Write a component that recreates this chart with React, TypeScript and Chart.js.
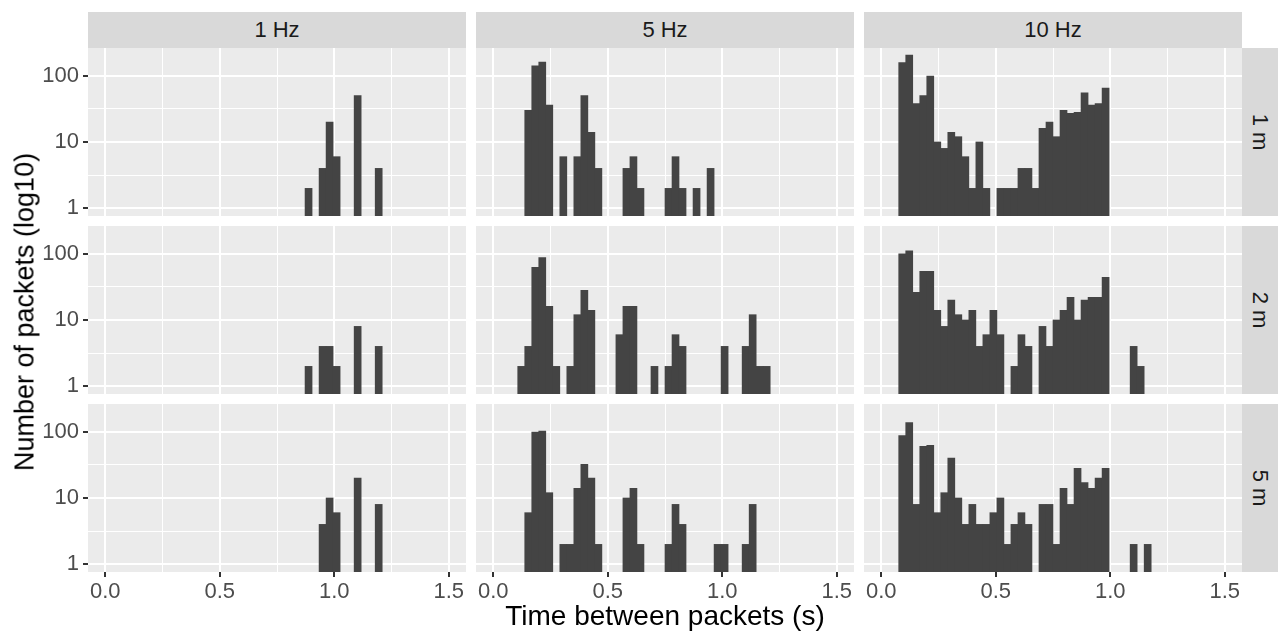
import React, { useEffect, useRef } from 'react';
import { Chart, registerables } from 'chart.js';

Chart.register(...registerables);

// ---- data -------------------------------------------------------------
const FREQUENCIES = ['1 Hz', '5 Hz', '10 Hz'];
const DISTANCES = ['1 m', '2 m', '5 m'];
const X_TITLE = 'Time between packets (s)';
const Y_TITLE = 'Number of packets (log10)';

// histogram: 50 bins over [0, 1.5]; bin i is centred at i * BIN_WIDTH seconds
const N_BINS = 50;
const BIN_WIDTH = 1.5 / 49;

const X_MAJOR = [0, 0.5, 1.0, 1.5];
const X_MINOR = [0.25, 0.75, 1.25];
const X_LABELS = ['0.0', '0.5', '1.0', '1.5'];
const Y_MAJOR = [1, 10, 100];
const Y_MINOR = [3.1623, 31.623];
const Y_LABELS = ['1', '10', '100'];
const X_MIN = -0.075;
const X_MAX = 1.575;
const Y_MIN = 0.767;
const Y_MAX = 260;

// packet counts per bin (bins 0..39); 0 = empty bin
const HZ1_M1 = [
  0, 0, 0, 0, 0, 0, 0, 0, 0, 0,
  0, 0, 0, 0, 0, 0, 0, 0, 0, 0,
  0, 0, 0, 0, 0, 0, 0, 0, 0, 2,
  0, 4, 20, 6, 0, 0, 50, 0, 0, 4,
];
const HZ1_M2 = [
  0, 0, 0, 0, 0, 0, 0, 0, 0, 0,
  0, 0, 0, 0, 0, 0, 0, 0, 0, 0,
  0, 0, 0, 0, 0, 0, 0, 0, 0, 2,
  0, 4, 4, 2, 0, 0, 8, 0, 0, 4,
];
const HZ1_M5 = [
  0, 0, 0, 0, 0, 0, 0, 0, 0, 0,
  0, 0, 0, 0, 0, 0, 0, 0, 0, 0,
  0, 0, 0, 0, 0, 0, 0, 0, 0, 0,
  0, 4, 10, 6, 0, 0, 20, 0, 0, 8,
];
const HZ5_M1 = [
  0, 0, 0, 0, 0, 30, 140, 160, 36, 0,
  6, 0, 6, 50, 14, 4, 0, 0, 0, 4,
  6, 2, 0, 0, 0, 2, 6, 2, 0, 2,
  0, 4, 0, 0, 0, 0, 0, 0, 0, 0,
];
const HZ5_M2 = [
  0, 0, 0, 0, 2, 4, 62, 87, 16, 2,
  0, 2, 12, 28, 14, 0, 0, 0, 6, 16,
  16, 0, 0, 2, 0, 2, 6, 4, 0, 0,
  0, 0, 0, 4, 0, 0, 4, 12, 2, 2,
];
const HZ5_M5 = [
  0, 0, 0, 0, 0, 6, 98, 102, 12, 0,
  2, 2, 14, 32, 20, 2, 0, 0, 0, 10,
  14, 2, 0, 0, 0, 2, 8, 4, 0, 0,
  0, 0, 2, 2, 0, 0, 2, 8, 0, 0,
];
const HZ10_M1 = [
  0, 0, 0, 157, 204, 38, 50, 98, 10, 8,
  14, 12, 6, 2, 10, 2, 0, 2, 2, 2,
  4, 4, 2, 16, 20, 12, 30, 27, 28, 55,
  36, 38, 65, 0, 0, 0, 0, 0, 0, 0,
];
const HZ10_M2 = [
  0, 0, 0, 99, 110, 26, 54, 54, 14, 8,
  20, 12, 10, 14, 4, 6, 14, 6, 0, 2,
  6, 4, 0, 8, 4, 10, 14, 22, 10, 20,
  22, 22, 44, 0, 0, 0, 4, 2, 0, 0,
];
const HZ10_M5 = [
  0, 0, 0, 87, 136, 8, 60, 62, 6, 12,
  40, 10, 4, 8, 4, 4, 6, 10, 2, 4,
  6, 4, 0, 8, 8, 2, 14, 8, 28, 17,
  14, 20, 28, 0, 0, 0, 2, 0, 2, 0,
];

// rows = distance, columns = frequency
const PANELS = [
  [HZ1_M1, HZ5_M1, HZ10_M1],
  [HZ1_M2, HZ5_M2, HZ10_M2],
  [HZ1_M5, HZ5_M5, HZ10_M5],
];

// ---- layout / style ---------------------------------------------------
const COL_LEFT = [88, 476, 864];
const ROW_TOP = [48, 226, 404];
const PANEL_W = 378;
const PANEL_H = 168;
const STRIP = 36;
const FONT = '"Liberation Sans", Arial, Helvetica, sans-serif';
const PANEL_BG = '#EBEBEB';
const STRIP_BG = '#D9D9D9';
const BAR_COLOR = '#444444';

const near = (a: number, list: number[]) => list.some((b) => Math.abs(a - b) < 1e-6);

const panelBg = {
  id: 'panelBg',
  beforeDraw(chart: any) {
    const { ctx, chartArea } = chart;
    ctx.save();
    ctx.fillStyle = PANEL_BG;
    ctx.fillRect(chartArea.left, chartArea.top, chartArea.right - chartArea.left, chartArea.bottom - chartArea.top);
    ctx.restore();
  },
};

function Panel({ counts, row, col }: { counts: number[]; row: number; col: number }) {
  const ref = useRef<HTMLCanvasElement>(null);
  const isLeft = col === 0;
  const isBottom = row === PANELS.length - 1;
  const L = isLeft ? 70 : 20;
  const B = isBottom ? 45 : 20;
  const T = 20;
  const R = 20;
  const W = PANEL_W + L + R;
  const H = PANEL_H + T + B;

  useEffect(() => {
    const centers = Array.from({ length: N_BINS }, (_, i) => i * BIN_WIDTH);
    const data = centers.map((x, i) => ({ x, y: counts[i] ? counts[i] : null }));
    const tickFont = { family: FONT, size: 22 };
    const chart = new Chart(ref.current as HTMLCanvasElement, {
      type: 'bar',
      data: {
        datasets: [
          {
            data: data as any,
            xAxisID: 'x',
            yAxisID: 'y',
            backgroundColor: BAR_COLOR,
            borderWidth: 0,
            barPercentage: 1,
            categoryPercentage: 1,
            grouped: false,
          },
        ],
      },
      options: {
        animation: false,
        responsive: false,
        maintainAspectRatio: false,
        devicePixelRatio: 1,
        layout: { padding: 0 },
        plugins: { legend: { display: false }, tooltip: { enabled: false } },
        scales: {
          x: {
            type: 'linear',
            position: 'bottom',
            min: X_MIN,
            max: X_MAX,
            bounds: 'data',
            offset: false,
            afterBuildTicks: (s: any) => {
              s.ticks = [...X_MAJOR, ...X_MINOR].sort((a, b) => a - b).map((v) => ({ value: v }));
            },
            afterFit: (s: any) => {
              s.height = B;
            },
            ticks: {
              display: isBottom,
              autoSkip: false,
              maxRotation: 0,
              minRotation: 0,
              padding: 2,
              color: '#4D4D4D',
              font: tickFont,
              callback: (v: any) => {
                const i = X_MAJOR.findIndex((m) => Math.abs(m - v) < 1e-6);
                return i >= 0 ? X_LABELS[i] : '';
              },
            },
            grid: {
              offset: false,
              color: '#FFFFFF',
              lineWidth: (c: any) => (near(c.tick?.value, X_MAJOR) ? 2 : 1),
              drawTicks: isBottom,
              tickLength: 5,
              tickWidth: 2,
              tickColor: (c: any) => (near(c.tick?.value, X_MAJOR) ? '#333333' : 'rgba(0,0,0,0)'),
            },
            border: { display: false },
          },
          y: {
            type: 'logarithmic',
            position: 'left',
            min: Y_MIN,
            max: Y_MAX,
            bounds: 'data',
            afterBuildTicks: (s: any) => {
              s.ticks = [...Y_MAJOR, ...Y_MINOR].sort((a, b) => a - b).map((v) => ({ value: v }));
            },
            afterFit: (s: any) => {
              s.width = L;
            },
            ticks: {
              display: isLeft,
              autoSkip: false,
              padding: 4,
              color: '#4D4D4D',
              font: tickFont,
              callback: (v: any) => {
                const i = Y_MAJOR.findIndex((m) => Math.abs(m - v) < 1e-6);
                return i >= 0 ? Y_LABELS[i] : '';
              },
            },
            grid: {
              offset: false,
              color: '#FFFFFF',
              lineWidth: (c: any) => (near(c.tick?.value, Y_MAJOR) ? 2 : 1),
              drawTicks: isLeft,
              tickLength: 5,
              tickWidth: 2,
              tickColor: (c: any) => (near(c.tick?.value, Y_MAJOR) ? '#333333' : 'rgba(0,0,0,0)'),
            },
            border: { display: false },
          },
          padTop: {
            type: 'linear',
            position: 'top',
            display: true,
            ticks: { display: false },
            grid: { display: false, drawTicks: false },
            border: { display: false },
            afterFit: (s: any) => {
              s.height = T;
            },
          },
          padRight: {
            type: 'linear',
            position: 'right',
            display: true,
            ticks: { display: false },
            grid: { display: false, drawTicks: false },
            border: { display: false },
            afterFit: (s: any) => {
              s.width = R;
            },
          },
        },
      } as any,
      plugins: [panelBg],
    });
    return () => chart.destroy();
  }, []);

  return (
    <canvas
      ref={ref}
      width={W}
      height={H}
      style={{ position: 'absolute', left: COL_LEFT[col] - L, top: ROW_TOP[row] - T, width: W, height: H }}
    />
  );
}

export default function App() {
  const stripText = { fontFamily: FONT, fontSize: 22, color: '#1A1A1A' };
  return (
    <div
      style={{
        position: 'absolute',
        left: 0,
        top: 0,
        width: 1280,
        height: 639,
        background: '#FFFFFF',
        overflow: 'hidden',
      }}
    >
      {FREQUENCIES.map((f, c) => (
        <div
          key={'top' + c}
          style={{
            position: 'absolute',
            left: COL_LEFT[c],
            top: ROW_TOP[0] - STRIP,
            width: PANEL_W,
            height: STRIP,
            background: STRIP_BG,
            display: 'flex',
            alignItems: 'center',
            justifyContent: 'center',
            ...stripText,
          }}
        >
          {f}
        </div>
      ))}
      {DISTANCES.map((d, r) => (
        <div
          key={'right' + r}
          style={{
            position: 'absolute',
            left: COL_LEFT[2] + PANEL_W,
            top: ROW_TOP[r],
            width: STRIP,
            height: PANEL_H,
            background: STRIP_BG,
            display: 'flex',
            alignItems: 'center',
            justifyContent: 'center',
            ...stripText,
          }}
        >
          <span style={{ transform: 'rotate(90deg)', whiteSpace: 'nowrap', display: 'inline-block' }}>{d}</span>
        </div>
      ))}
      {PANELS.map((rowData, r) =>
        rowData.map((counts, c) => <Panel key={r + '-' + c} counts={counts} row={r} col={c} />)
      )}
      <div
        style={{
          position: 'absolute',
          left: 25,
          top: 312,
          transform: 'translate(-50%, -50%) rotate(-90deg)',
          whiteSpace: 'nowrap',
          fontFamily: FONT,
          fontSize: 27,
          lineHeight: 1,
          color: '#000000',
        }}
      >
        {Y_TITLE}
      </div>
      <div
        style={{
          position: 'absolute',
          left: 665,
          top: 616,
          transform: 'translate(-50%, -50%)',
          whiteSpace: 'nowrap',
          fontFamily: FONT,
          fontSize: 28,
          lineHeight: 1,
          color: '#000000',
        }}
      >
        {X_TITLE}
      </div>
    </div>
  );
}
